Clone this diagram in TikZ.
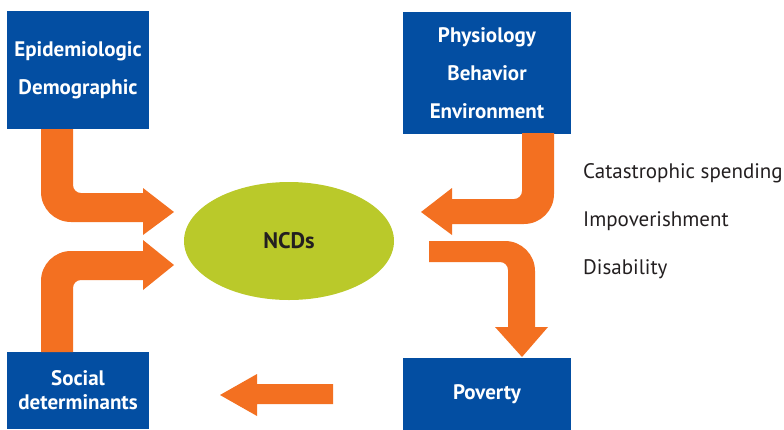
\documentclass[tikz,border=0pt]{standalone}
\usepackage{fontspec}
\setmainfont{PT Sans}
\usetikzlibrary{shapes.geometric}
\definecolor{boxblue}{HTML}{034EA2}
\definecolor{arrorange}{HTML}{F37021}
\definecolor{ncdgreen}{HTML}{BAC92A}
\definecolor{txtgray}{HTML}{231F20}
\begin{document}
\begin{tikzpicture}[x=1pt,y=-1pt,
  bluebox/.style={fill=boxblue,text=white,inner sep=0pt,align=center,font=\bfseries\fontsize{21}{38}\selectfont},
  blockarrow/.style={fill=arrorange},
  sidetext/.style={anchor=west,inner sep=0pt,text=txtgray,font=\fontsize{21}{24}\selectfont}]
\useasboundingbox (0,0) rectangle (784,429);
% boxes
\node[bluebox,minimum width=142pt,minimum height=118pt] (epi) at (78,70) {Epidemiologic\\Demographic};
\node[bluebox,minimum width=168pt,minimum height=122pt] (phys) at (487,73) {Physiology\\Behavior\\Environment};
\node[bluebox,minimum width=168pt,minimum height=72pt] (pov) at (487,394) {Poverty};
\node[bluebox,minimum width=142pt,minimum height=77pt,font=\bfseries\fontsize{21}{24}\selectfont] (soc) at (78,390.5) {Social\\determinants};
\node[ellipse,fill=ncdgreen,minimum width=210pt,minimum height=118pt,inner sep=0pt,text=txtgray,font=\bfseries\fontsize{22.5}{24}\selectfont] (ncd) at (289,241) {NCDs};
% arrows
\fill[blockarrow] (41,129) [rounded corners=30pt] -- (41,222) [sharp corners] -- (143,222) -- (143,235) -- (174,212) -- (143,188) -- (143,193) [rounded corners=8pt] -- (73,193) [sharp corners] -- (73,129) -- cycle;
\fill[blockarrow] (41,352) [rounded corners=30pt] -- (41,251) [sharp corners] -- (143,251) -- (143,240) -- (174,265) -- (143,290) -- (143,280) [rounded corners=8pt] -- (73,280) [sharp corners] -- (73,352) -- cycle;
\fill[blockarrow] (554,133) [rounded corners=30pt] -- (554,224) [sharp corners] -- (452,224) -- (452,235) -- (421,212) -- (452,188) -- (452,199) [rounded corners=8pt] -- (522,199) [sharp corners] -- (522,133) -- cycle;
\fill[blockarrow] (429,241) [rounded corners=30pt] -- (535,241) [sharp corners] -- (535,327) -- (548,327) -- (522,357) -- (495,327) -- (508,327) [rounded corners=8pt] -- (508,262) [sharp corners] -- (429,262) -- cycle;
\fill[blockarrow] (333,384) -- (257,384) -- (257,374) -- (220,395) -- (257,416) -- (257,404) -- (333,404) -- cycle;
% side texts
\node[sidetext] (t1) at (583,173) {Catastrophic spending};
\node[sidetext] (t2) at (583,221) {Impoverishment};
\node[sidetext] (t3) at (583,269) {Disability};
\end{tikzpicture}
\end{document}
